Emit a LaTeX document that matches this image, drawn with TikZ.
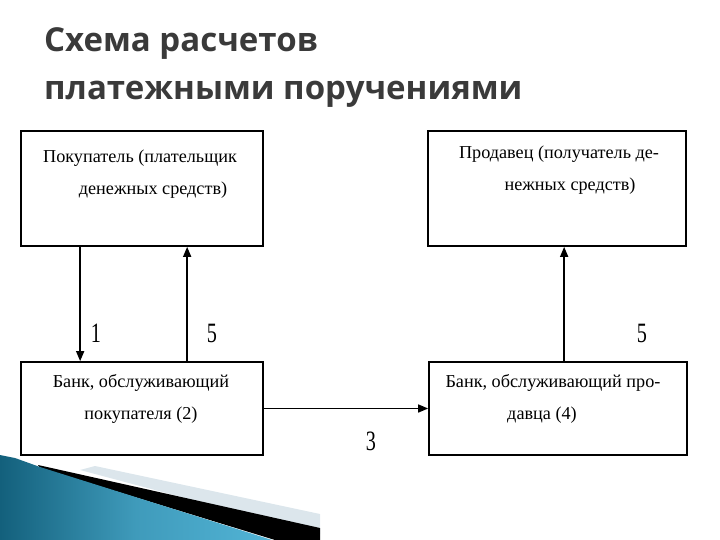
\documentclass[tikz,border=0pt]{standalone}
\usepackage{fontspec}
\setmainfont{Liberation Serif}
\newfontfamily\titlefont{Open Sans}
\usetikzlibrary{arrows.meta}
\definecolor{titlegray}{HTML}{3A3A3A}
\definecolor{decodark}{HTML}{13607C}
\definecolor{decolight}{HTML}{52B4D6}
\definecolor{decoband}{HTML}{DCE6EC}
\tikzset{
  box/.style={draw=black, line width=1.7pt, fill=white, inner sep=0pt},
  boxtext/.style={anchor=north, inner sep=0pt, align=center, font=\fontsize{18.2}{32}\selectfont},
  flow/.style={line width=1.5pt, -{Triangle[length=10pt,width=8pt]}},
  num/.style={inner sep=0pt, font=\fontsize{28}{30}\selectfont},
  ttl/.style={anchor=base west, inner sep=0pt, text=titlegray, font=\titlefont\bfseries\fontsize{33}{36}\selectfont}
}
\newcommand{\narrowdigit}[1]{\scalebox{0.72}[1]{#1}}
\begin{document}
\begin{tikzpicture}[x=1pt,y=-1pt]
\useasboundingbox (0,0) rectangle (720,540);
% decoration bottom-left
\fill[decoband] (95,466) -- (320,514) -- (320,534) -- (80,470) -- cycle;
\fill[black] (38,465) -- (320,528) -- (320,540) -- (275,540) -- (40,468) -- cycle;
\shade[left color=decodark, right color=decolight, middle color=decolight!70!decodark] (0,455) -- (15,458) -- (40,467) -- (272,540) -- (0,540) -- cycle;
% title
\node[ttl] (t1) at (44,52) {Схема расчетов};
\node[ttl] (t2) at (44,100) {платежными поручениями};
% boxes
\node[box, minimum width=242pt, minimum height=115pt] (buyer) at (142,188.5) {};
\node[box, minimum width=258pt, minimum height=115pt] (seller) at (557,188.5) {};
\node[box, minimum width=242pt, minimum height=93pt] (bankb) at (142,408.5) {};
\node[box, minimum width=258pt, minimum height=93pt] (banks) at (558,408.5) {};
% texts
\node[boxtext] (buyertxt) at (140,150) {Покупатель (плательщик\\\hspace*{26pt}денежных средств)};
\node[boxtext] (sellertxt) at (559,146) {Продавец (получатель де-\\\hspace*{22pt}нежных средств)};
\node[boxtext] (bankbtxt) at (141,374) {Банк, обслуживающий\\покупателя (2)};
\node[boxtext] (bankstxt) at (553,374) {Банк, обслуживающий про-\\давца (4)\hspace*{22pt}};
% connectors
\draw[flow] ([xshift=60pt]buyer.south west) -- ([xshift=60pt]bankb.north west);
\draw[flow] ([xshift=167pt]bankb.north west) -- ([xshift=167pt]buyer.south west);
\draw[flow] ([xshift=136pt]banks.north west) -- ([xshift=137pt]seller.south west);
\draw[flow] (bankb.east) -- (banks.west);
% numbers
\node[num] (n1) at (96,333) {\narrowdigit{1}};
\node[num] (n5a) at (212,333) {\narrowdigit{5}};
\node[num] (n5b) at (642,333) {\narrowdigit{5}};
\node[num] (n3) at (371,441) {\narrowdigit{3}};
\end{tikzpicture}
\end{document}
